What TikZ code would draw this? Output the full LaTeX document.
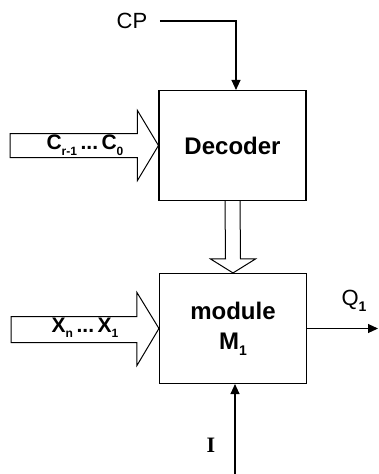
\documentclass[tikz,border=0pt]{standalone}
\usepackage{fontspec}
\setmainfont{Liberation Sans}
\newfontfamily\serifb{Liberation Serif}
\usetikzlibrary{calc,arrows.meta}
\newcommand{\lowsub}[1]{\raisebox{-5.5pt}{\fontsize{12}{12}\selectfont #1}}
\newcommand{\bigsub}[1]{\raisebox{-6pt}{\fontsize{14}{14}\selectfont #1}}
\begin{document}
\begin{tikzpicture}[x=1pt,y=-1pt, line width=1.1pt,
  block/.style={draw, rectangle, minimum width=147pt, minimum height=110pt, inner sep=0pt, align=center, font=\bfseries\fontsize{24}{26}\selectfont},
  sig/.style={-{Triangle[length=10pt,width=9pt]}},
  bus/.style={draw, line width=1pt, fill=white, line join=miter},
  buslabel/.style={font=\bfseries\fontsize{21}{22}\selectfont, inner sep=0pt},
  plainlabel/.style={font=\fontsize{22}{24}\selectfont, inner sep=0pt}]
\useasboundingbox (0,0) rectangle (379,474);

\node[block] (dec) at (232.5,145.5) {Decoder};
\node[block] (mod) at (233,328.5) {module\\[4pt]M\bigsub{1}};

% CP clock input
\node[plainlabel] (cp) at (132,21) {CP};
\draw[sig] ([xshift=12pt]cp.east) -| ($(dec.north)+(3.5,0)$);

% C bus into decoder
\coordinate (cin) at (10,145.5);
\draw[bus] ($(cin)+(0,-12)$) -- ($(dec.west)+(-21,-12)$) -- ($(dec.west)+(-21,-35)$) -- (dec.west)
  -- ($(dec.west)+(-21,35)$) -- ($(dec.west)+(-21,12)$) -- ($(cin)+(0,12)$) -- cycle;
\node[buslabel] (clab) at (85,145) {C\lowsub{r-1}\,...\,C\lowsub{0}};

% decoder to module bus
\draw[bus] ($(dec.south)+(-7.5,0)$) -- ($(mod.north)+(-7.5,-14)$) -- ($(mod.north)+(-22.5,-14)$) -- (mod.north)
  -- ($(mod.north)+(22.5,-14)$) -- ($(mod.north)+(7.5,-14)$) -- ($(dec.south)+(7.5,0)$);

% X bus into module
\coordinate (xin) at (11,329.5);
\draw[bus] ($(xin)+(0,-13)$) -- ($(mod.west)+(-22,-12)$) -- ($(mod.west)+(-22,-36)$) -- (mod.west)
  -- ($(mod.west)+(-22,37)$) -- ($(mod.west)+(-22,14)$) -- ($(xin)+(0,13)$) -- cycle;
\node[buslabel] (xlab) at (85,328) {X\lowsub{n}\,...\,X\lowsub{1}};

% output Q1
\coordinate (qout) at (378,328.5);
\draw[sig] (mod.east) -- (qout);
\node[plainlabel] (q1) at (354,301) {Q\bigsub{\bfseries 1}};

% input I
\coordinate (iin) at (235,474);
\draw[sig] (iin) -- (mod.south -| iin);
\node[font=\serifb\bfseries\fontsize{22}{22}\selectfont, inner sep=0pt] (ilab) at (211,445) {I};
\end{tikzpicture}
\end{document}
